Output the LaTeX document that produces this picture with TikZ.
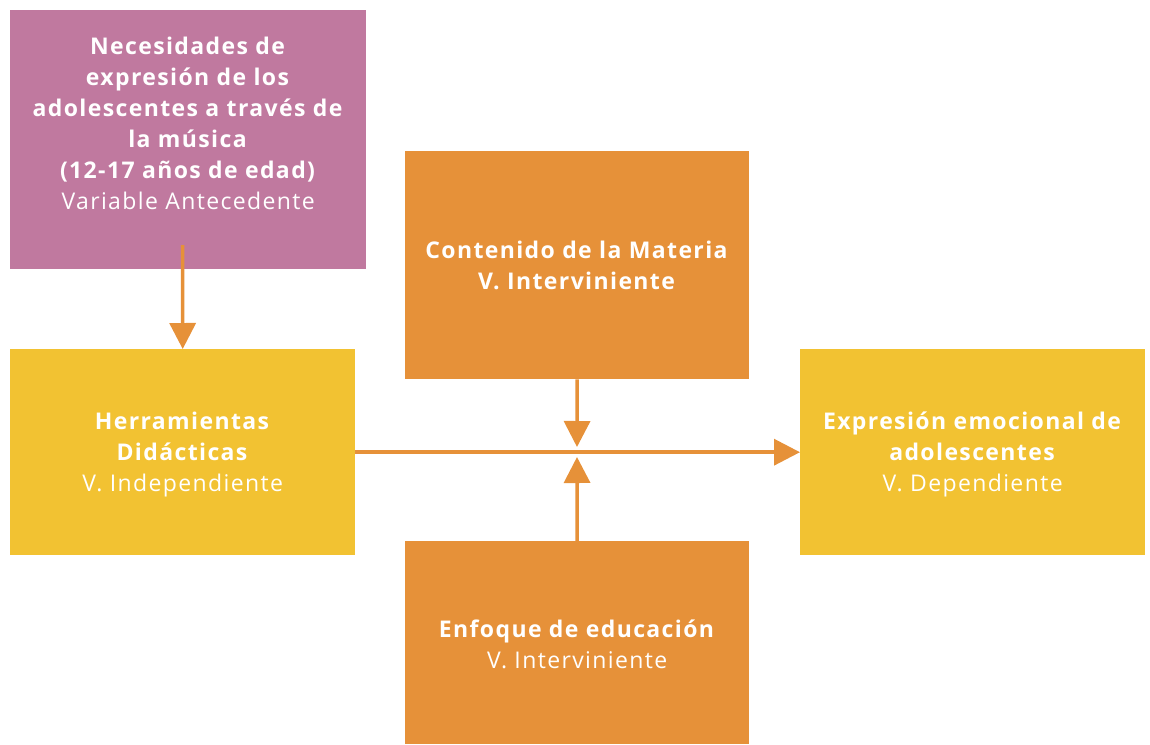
\documentclass[tikz,border=0pt]{standalone}
\usepackage{fontspec}
\setmainfont{Open Sans}[LetterSpace=6]
\usetikzlibrary{arrows.meta, positioning}

\definecolor{antecol}{HTML}{C0799F}
\definecolor{varcol}{HTML}{F2C232}
\definecolor{intcol}{HTML}{E69139}

\begin{document}
\begin{tikzpicture}[x=1pt, y=-1pt,
	box/.style={rectangle, inner sep=0pt, anchor=north west},
	txt/.style={text=white, align=center, font=\fontsize{23}{31}\selectfont},
	conn/.style={-{Triangle[width=26pt, length=26pt]}, color=intcol, line width=3.5pt}]
	\useasboundingbox (0,0) rectangle (1150,744);
	% cajas
	\node[box, fill=antecol, minimum width=356pt, minimum height=259pt] (ante) at (10,10) {};
	\node[box, fill=varcol, minimum width=345pt, minimum height=206pt] (herr) at (10,349) {};
	\node[box, fill=intcol, minimum width=344pt, minimum height=228pt] (cont) at (405,151) {};
	\node[box, fill=varcol, minimum width=345pt, minimum height=206pt] (expr) at (800,349) {};
	\node[box, fill=intcol, minimum width=344pt, minimum height=203pt] (enf) at (405,541) {};
	
	% textos
	\node[txt] (anteT) at ([yshift=16pt]ante.center) {\textbf{Necesidades de}\\ \textbf{expresión de los}\\ \textbf{adolescentes a través de}\\ \textbf{la música}\\ \textbf{(12-17 años de edad)}\\ Variable Antecedente};
	\node[txt] (herrT) at ([yshift=-2.5pt]herr.center) {\textbf{Herramientas}\\ \textbf{Didácticas}\\ V. Independiente};
	\node[txt] (contT) at (cont.center) {\textbf{Contenido de la Materia}\\ \textbf{V. Interviniente}};
	\node[txt] (exprT) at ([yshift=-2.5pt]expr.center) {\textbf{Expresión emocional de}\\ \textbf{adolescentes}\\ V. Dependiente};
	\node[txt] (enfT) at ([yshift=-2pt]enf.center) {\textbf{Enfoque de educación}\\ V. Interviniente};
	
	% flechas
	\coordinate (anteBase) at (182.5,245);
	\coordinate (cruceA) at (577,447);
	\coordinate (cruceB) at (577,457);
	\draw[conn] (anteBase) -- (herr.north);
	\draw[conn] (herr.east) -- (expr.west);
	\draw[conn] (cont.south) -- (cruceA);
	\draw[conn] (enf.north) -- (cruceB);
\end{tikzpicture}
\end{document}
